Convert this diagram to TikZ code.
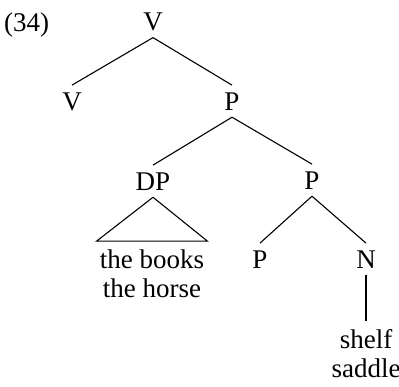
\documentclass[tikz,border=0pt]{standalone}
\usepackage{fontspec}
\setmainfont{Liberation Serif}
\usetikzlibrary{positioning}

\begin{document}
\begin{tikzpicture}[x=1pt, y=-1pt, font=\fontsize{27}{29}\selectfont,
    cat/.style={anchor=base, inner sep=7pt},
    words/.style={anchor=base, align=center, inner xsep=3pt, inner ysep=8pt},
    branch/.style={line width=1.1pt}]
  \useasboundingbox (0,0) rectangle (399,386);
  % example number
  \node[anchor=base west, inner sep=0pt] (num) at (4,31) {(34)};
  % category labels
  \node[cat] (vtop) at (153,30) {V};
  \node[cat] (vleft) at (72,110) {V};
  \node[cat] (pmid) at (232,110) {P};
  \node[cat] (dp) at (153,190) {DP};
  \node[cat] (pright) at (312,189) {P};
  \node[cat] (plow) at (260,268) {P};
  \node[cat] (n) at (366,268) {N};
  % terminal strings (base = last line)
  \node[words] (books) at (152,297) {the books\\the horse};
  \node[words] (shelf) at (366,377) {shelf\\saddle};
  % branches
  \draw[branch] (vtop.south) -- (vleft.north);
  \draw[branch] (vtop.south) -- (pmid.north);
  \draw[branch] (pmid.south) -- (dp.north);
  \draw[branch] (pmid.south) -- (pright.north);
  \draw[branch] (pright.south) -- (plow.north);
  \draw[branch] (pright.south) -- (n.north);
  \draw[branch] (n.south) -- (shelf.north);
  % triangle over DP
  \draw[branch] (dp.south) -- (books.north west) -- (books.north east) -- cycle;
\end{tikzpicture}
\end{document}
